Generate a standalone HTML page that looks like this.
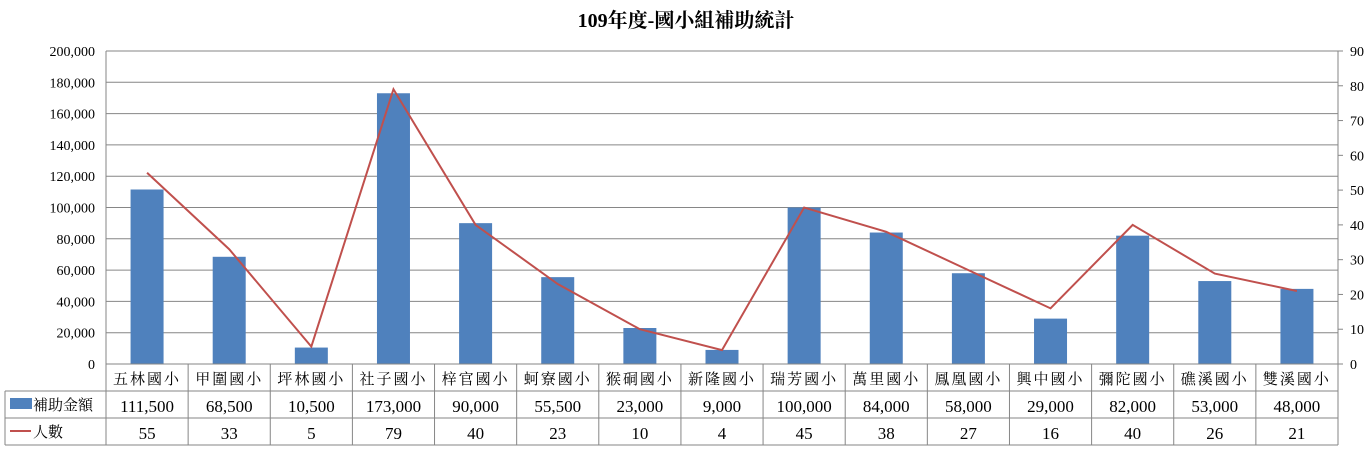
<!DOCTYPE html>
<html><head><meta charset="utf-8"><style>
body{margin:0;background:#fff;}
svg text{font-family:"Liberation Serif","Noto Serif CJK SC","Noto Sans CJK TC",serif;}
</style></head><body>
<svg id="c" width="1372" height="449" xmlns="http://www.w3.org/2000/svg">
<text x="686" y="27" text-anchor="middle" font-size="20" font-weight="bold">109年度-國小組補助統計</text>
</svg>
<script>
const categories=["五林國小","甲圍國小","坪林國小","社子國小","梓官國小","蚵寮國小","猴硐國小","新隆國小","瑞芳國小","萬里國小","鳳凰國小","興中國小","彌陀國小","礁溪國小","雙溪國小"];
const amounts=[111500,68500,10500,173000,90000,55500,23000,9000,100000,84000,58000,29000,82000,53000,48000];
const people=[55,33,5,79,40,23,10,4,45,38,27,16,40,26,21];
const leftTicks=[0,20000,40000,60000,80000,100000,120000,140000,160000,180000,200000];
const rightTicks=[0,10,20,30,40,50,60,70,80,90];
const svg=document.getElementById('c');const NS='http://www.w3.org/2000/svg';
const L=106,R=1338,T=51,B=364;
const cw=(R-L)/categories.length;
const yL=v=>B-(v/200000)*(B-T);
const yR=v=>B-(v/90)*(B-T);
const xC=i=>L+cw*(i+0.5);
function mk(t,a,txt){const e=document.createElementNS(NS,t);for(const k in a)e.setAttribute(k,a[k]);if(txt!==undefined)e.textContent=txt;svg.appendChild(e);return e;}
const fmt=v=>v.toLocaleString('en-US');
leftTicks.forEach(v=>{
 const g=mk('line',{x1:L,x2:R,y1:yL(v),y2:yL(v),stroke:'#868686','stroke-width':1});
 
 
 const t=mk('text',{x:95,y:yL(v)+5,'text-anchor':'end','font-size':14},fmt(v));
 
 
});
rightTicks.forEach(v=>{
 const k=mk('line',{x1:R,x2:R+5,y1:yR(v),y2:yR(v),stroke:'#868686'});
 
 
 const t=mk('text',{x:1350,y:yR(v)+5,'font-size':14},String(v));
 
 
});
const ax=mk('line',{x1:L,x2:L,y1:T,y2:B,stroke:'#868686'});


const ax2=mk('line',{x1:R,x2:R,y1:T,y2:B,stroke:'#868686'});


amounts.forEach((v,i)=>{
 const b=mk('rect',{x:xC(i)-16.5,y:yL(v),width:33,height:B-yL(v),fill:'#4f81bd'});
 
 
});
const pl=mk('polyline',{points:people.map((v,i)=>xC(i)+','+yR(v)).join(' '),fill:'none',stroke:'#c0504d','stroke-width':2});


// table
const rows=[364,391,418,445];const TL=5;
const tl=(x1,y1,x2,y2,n)=>{const e=mk('line',{x1,y1,x2,y2,stroke:'#868686'});};
tl(L,rows[0],R,rows[0],'table-line');
for(let r=1;r<4;r++)tl(TL,rows[r],R,rows[r],'table-line');
tl(TL,rows[1],TL,rows[3],'table-line');
for(let i=0;i<=categories.length;i++)tl(L+cw*i,rows[0],L+cw*i,rows[3],'table-line');
categories.forEach((c,i)=>{
 const t=mk('text',{x:xC(i),y:384,'text-anchor':'middle','font-size':15,'letter-spacing':'2'},c);
 
 
 const a=mk('text',{x:xC(i),y:412,'text-anchor':'middle','font-size':17},fmt(amounts[i]));
 
 
 const p=mk('text',{x:xC(i),y:439,'text-anchor':'middle','font-size':17},String(people[i]));
 
 
});
const lk=mk('rect',{x:10,y:398,width:22,height:11,fill:'#4f81bd'});


const lt=mk('text',{x:33,y:410,'font-size':15},'補助金額');


const lk2=mk('line',{x1:10,x2:31,y1:431,y2:431,stroke:'#c0504d','stroke-width':2});


const lt2=mk('text',{x:33,y:437,'font-size':15},'人數');


</script>
</body></html>
